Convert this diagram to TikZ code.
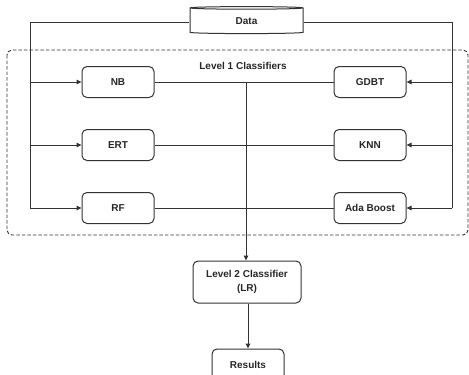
\documentclass[tikz,border=0pt]{standalone}
\usepackage{fontspec}
\setmainfont{Liberation Sans}
\usetikzlibrary{arrows.meta,shapes.geometric}
\definecolor{ln}{HTML}{333333}
\tikzset{
  lbl/.style={font=\bfseries\fontsize{10}{12}\selectfont, text=black!85},
  box/.style={lbl, draw=ln, line width=1pt, rounded corners=5pt, minimum width=72pt, minimum height=31pt, align=center},
  conn/.style={draw=ln, line width=1pt},
  arr/.style={conn, -{Triangle[length=5pt,width=4.5pt]}},
}
\begin{document}
\begin{tikzpicture}[x=1pt,y=-1pt]
\useasboundingbox (0,0) rectangle (469,375);
% dashed group
\draw[ln, line width=0.9pt, dash pattern=on 3.5pt off 2pt, rounded corners=5pt] (7,50) rectangle (468,235);
\node[lbl] (l1) at (243,66) {Level 1 Classifiers};
% data cylinder
\node[cylinder, shape border rotate=90, draw=ln, line width=1pt, aspect=0.12, minimum width=113pt, minimum height=27pt, lbl, inner sep=0pt] (data) at (246.5,21) {Data};
% classifiers
\node[box] (nb) at (118,82) {NB};
\node[box] (gdbt) at (370,82) {GDBT};
\node[box] (ert) at (118,145) {ERT};
\node[box] (knn) at (370,145) {KNN};
\node[box] (rf) at (118,208) {RF};
\node[box] (ada) at (370,208) {Ada Boost};
\node[box, minimum width=108pt, minimum height=42pt, font=\bfseries\fontsize{10}{14.5}\selectfont] (lv2) at (247,282) {Level 2 Classifier\\(LR)};
\node[box] (res) at (248,364.5) {Results};
% coordinates
\coordinate (lt) at (30,22);
\coordinate (lb) at (30,208);
\coordinate (rt) at (452,22);
\coordinate (rb) at (452,208);
\coordinate (l1c) at (30,82);
\coordinate (l2c) at (30,145);
\coordinate (r1c) at (452,82);
\coordinate (r2c) at (452,145);
\coordinate (mid) at (246,82);
% feed lines
\draw[conn] (data.west |- lt) -- (lt) -- (lb);
\draw[conn] (data.east |- rt) -- (rt) -- (rb);
\draw[arr] (l1c) -- (nb);
\draw[arr] (l2c) -- (ert);
\draw[arr] (lb) -- (rf);
\draw[arr] (r1c) -- (gdbt);
\draw[arr] (r2c) -- (knn);
\draw[arr] (rb) -- (ada);
% horizontal links
\draw[conn] (nb) -- (gdbt);
\draw[conn] (ert) -- (knn);
\draw[conn] (rf) -- (ada);
% vertical
\draw[arr] (mid) -- (lv2.north -| mid);
\draw[arr] (lv2.south -| res.north) -- (res.north);
\end{tikzpicture}
\end{document}
